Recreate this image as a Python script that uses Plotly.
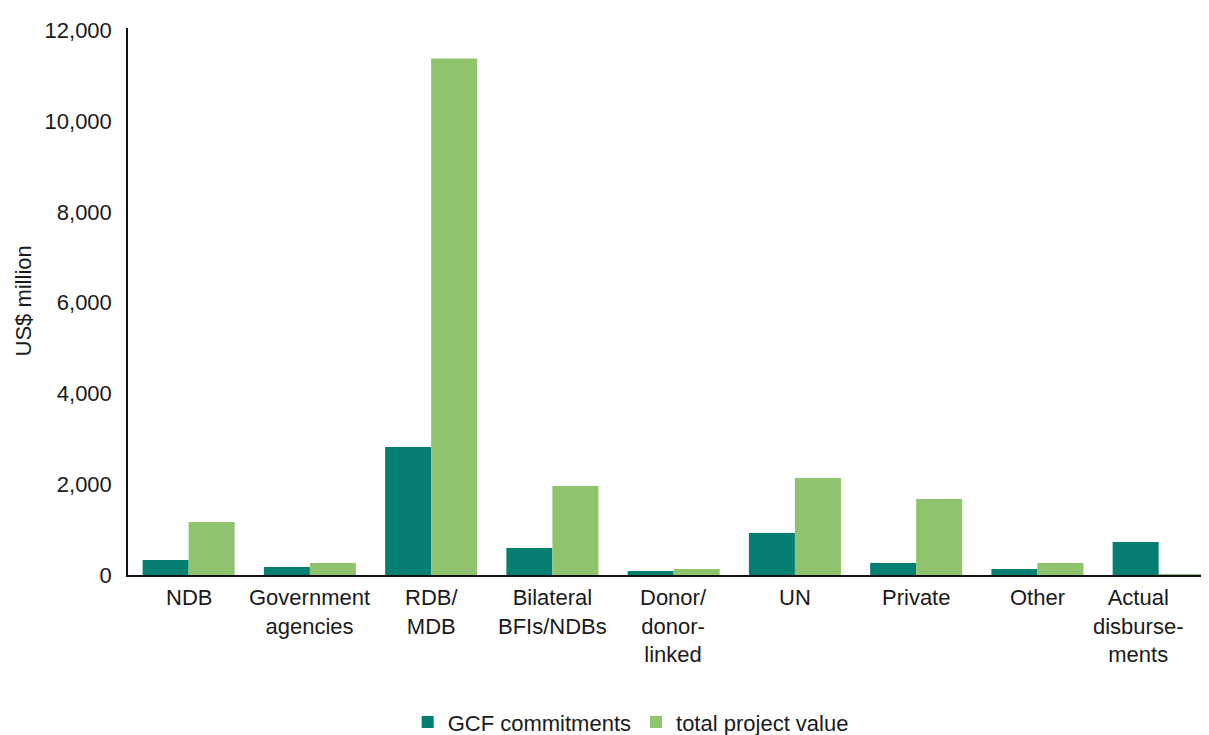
import plotly.graph_objects as go

categories = ["NDB", "Government<br>agencies", "RDB/<br>MDB", "Bilateral<br>BFIs/NDBs",
              "Donor/<br>donor-<br>linked", "UN", "Private", "Other", "Actual<br>disburse-<br>ments"]
gcf_commitments = [330, 176, 2820, 595, 88, 925, 264, 132, 727]
total_project_value = [1167, 264, 11380, 1960, 132, 2137, 1674, 264, 20]
y_tick_values = [0, 2000, 4000, 6000, 8000, 10000, 12000]
y_tick_labels = ["0", "2,000", "4,000", "6,000", "8,000", "10,000", "12,000"]

FONT = "Liberation Sans, Arial, sans-serif"
TEXT = "#1a1a1a"
FS = 22
xs = list(range(len(categories)))

fig = go.Figure()
fig.add_trace(go.Bar(x=xs, y=gcf_commitments, name="GCF commitments",
                     marker=dict(color="#047f72", line=dict(width=0))))
fig.add_trace(go.Bar(x=xs, y=total_project_value, name="total project value",
                     marker=dict(color="#8fc36d", line=dict(width=0))))

for i, lab in enumerate(categories):
    fig.add_annotation(x=i, y=0, xref="x", yref="paper", text=lab, showarrow=False,
                       yanchor="top", xanchor="center", yshift=-8,
                       xshift=-21 if i == len(categories) - 1 else 0,
                       font=dict(family=FONT, size=FS, color=TEXT))

fig.add_annotation(x=0, xref="paper", xanchor="center", xshift=-105,
                   y=0.5, yref="paper", yanchor="middle",
                   text="US$ million", textangle=-90, showarrow=False,
                   font=dict(family=FONT, size=FS, color=TEXT))

fig.update_layout(
    width=1209, height=735,
    margin=dict(l=120, r=8, t=20, b=168, autoexpand=False),
    paper_bgcolor="white", plot_bgcolor="white",
    barmode="group", bargap=0.241, bargroupgap=0,
    font=dict(family=FONT, size=FS, color=TEXT),
    showlegend=True,
    legend=dict(orientation="h", x=0.465, xanchor="center", y=-0.269, yanchor="middle",
                font=dict(family=FONT, size=FS, color=TEXT), itemwidth=30,
                traceorder="normal"),
    xaxis=dict(range=[-0.5, 8.415], showticklabels=False, showgrid=False, zeroline=False,
               showline=True, linecolor="#111111", linewidth=2, ticks="", automargin=False),
    yaxis=dict(range=[0, 12050], tickvals=y_tick_values, ticktext=y_tick_labels,
               showgrid=False, zeroline=False, showline=True, linecolor="#111111",
               linewidth=1.5, ticks="", ticklabelstandoff=10, automargin=False,
               tickfont=dict(family=FONT, size=FS, color=TEXT)),
)

fig.write_html("out.html")
